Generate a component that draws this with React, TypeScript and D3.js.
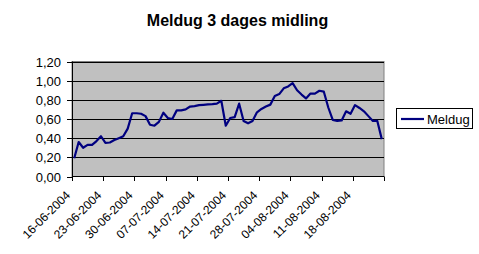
import React from "react";
import * as d3 from "d3";

const title = "Meldug 3 dages midling";
const seriesName = "Meldug";
const startDate = new Date(2004, 5, 16);
const values: number[] = [
  0.19, 0.36, 0.30, 0.33, 0.33, 0.37, 0.42, 0.35, 0.355, 0.38,
  0.40, 0.42, 0.50, 0.66, 0.66, 0.655, 0.63, 0.54, 0.53, 0.57,
  0.665, 0.61, 0.60, 0.69, 0.69, 0.70, 0.73, 0.735, 0.745, 0.748,
  0.752, 0.755, 0.76, 0.79, 0.53, 0.61, 0.62, 0.76, 0.58, 0.555,
  0.58, 0.67, 0.705, 0.73, 0.75, 0.84, 0.86, 0.92, 0.94, 0.975,
  0.90, 0.855, 0.815, 0.865, 0.865, 0.895, 0.885, 0.72, 0.59, 0.58,
  0.585, 0.68, 0.655, 0.745, 0.715, 0.68, 0.63, 0.58, 0.58, 0.39,
];
const yTicks = [0, 0.2, 0.4, 0.6, 0.8, 1.0, 1.2];
const tickEvery = 7;

const W = 479, H = 254;
const plot = { left: 72, right: 384, top: 61.5, bottom: 176.5 };
const FONT = "'Liberation Sans', Arial, sans-serif";

export default function App() {
  const dates = values.map((_, i) => d3.timeDay.offset(startDate, i));
  const x = d3.scalePoint<number>()
    .domain(values.map((_, i) => i))
    .range([plot.left, plot.right])
    .padding(0.5);
  const xEdge = d3.scaleLinear().domain([0, values.length]).range([plot.left, plot.right]);
  const y = d3.scaleLinear().domain([0, 1.2]).range([plot.bottom, plot.top]);
  const fmtY = (v: number) => d3.format(".2f")(v).replace(".", ",");
  const fmtD = d3.timeFormat("%d-%m-%Y");
  const line = d3.line<number>().x((_, i) => x(i) as number).y((v) => y(v));
  const tickIdx = d3.range(0, values.length + 1, tickEvery);

  return (
    <svg width={W} height={H} style={{ position: "absolute", left: 0, top: 0, background: "#fff" }}
      fontFamily={FONT}>
      <text x={237.5} y={26} textAnchor="middle" fontSize={16} fontWeight="bold">{title}</text>
      <rect x={plot.left} y={plot.top} width={plot.right - plot.left} height={plot.bottom - plot.top}
        fill="#C0C0C0" stroke="#808080" strokeWidth={1} />
      {yTicks.map((t) => (
        <g key={t}>
          {t > 0 && (
            <line x1={plot.left} x2={plot.right} y1={Math.round(y(t)) + 0.5} y2={Math.round(y(t)) + 0.5}
              stroke="#000" strokeWidth={1} />
          )}
          <line x1={plot.left - 5} x2={plot.left} y1={Math.round(y(t)) + 0.5} y2={Math.round(y(t)) + 0.5}
            stroke="#000" />
          <text x={61} y={Math.round(y(t)) + 5} textAnchor="end" fontSize={13}>{fmtY(t)}</text>
        </g>
      ))}
      <line x1={plot.left + 0.5} x2={plot.left + 0.5} y1={plot.top} y2={plot.bottom} stroke="#000" />
      <line x1={plot.left} x2={plot.right} y1={plot.bottom} y2={plot.bottom} stroke="#000" />
      {tickIdx.map((k) => (
        <line key={k} x1={Math.round(xEdge(k)) + 0.5} x2={Math.round(xEdge(k)) + 0.5}
          y1={plot.bottom} y2={plot.bottom + 4.5} stroke="#000" />
      ))}
      {tickIdx.filter((k) => k < values.length).map((k) => (
        <text key={k} transform={`translate(${xEdge(k) - 1},196) rotate(-45)`} textAnchor="end" fontSize={12}>
          {fmtD(dates[k])}
        </text>
      ))}
      <path d={line(values) || ""} fill="none" stroke="#000080" strokeWidth={2.2} strokeLinejoin="round" />
      <rect x={396.5} y={108.5} width={76} height={20} fill="#fff" stroke="#000" />
      <line x1={401} x2={424} y1={119} y2={119} stroke="#000080" strokeWidth={2.2} />
      <text x={427} y={124} fontSize={13}>{seriesName}</text>
    </svg>
  );
}
